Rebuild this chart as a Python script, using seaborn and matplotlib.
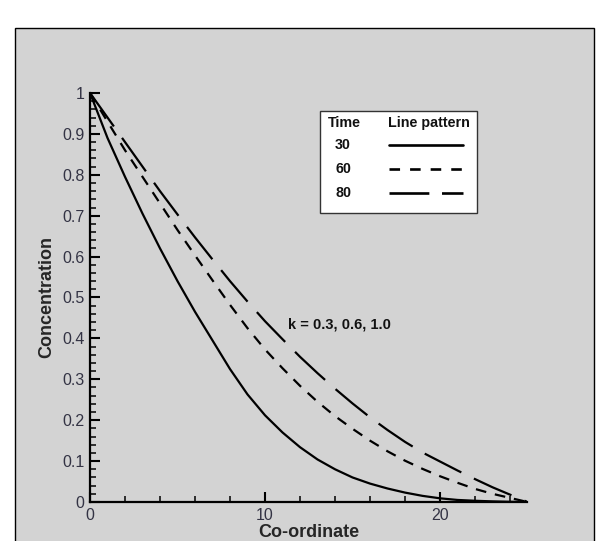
import numpy as np
import pandas as pd
import seaborn as sns
import matplotlib.pyplot as plt
from matplotlib.patches import Rectangle
from matplotlib.lines import Line2D
from matplotlib.ticker import MultipleLocator, FuncFormatter

# data
coord = list(range(26))
conc_30 = [1.0, 0.89, 0.795, 0.705, 0.62, 0.54, 0.465, 0.395, 0.325, 0.263, 0.212,
           0.17, 0.134, 0.104, 0.08, 0.06, 0.045, 0.033, 0.023, 0.015, 0.009,
           0.005, 0.003, 0.0015, 0.0005, 0.0]
conc_60 = [1.0, 0.93, 0.86, 0.795, 0.73, 0.665, 0.603, 0.542, 0.482, 0.425, 0.373,
           0.327, 0.284, 0.245, 0.21, 0.179, 0.15, 0.124, 0.101, 0.081, 0.063,
           0.047, 0.032, 0.02, 0.01, 0.0]
conc_80 = [1.0, 0.94, 0.88, 0.82, 0.76, 0.703, 0.647, 0.593, 0.54, 0.49, 0.442,
           0.398, 0.355, 0.315, 0.277, 0.241, 0.207, 0.176, 0.147, 0.121, 0.099,
           0.077, 0.056, 0.036, 0.018, 0.0]
times = ['30', '60', '80']

df = pd.DataFrame({
    'Co-ordinate': coord * 3,
    'Concentration': conc_30 + conc_60 + conc_80,
    'Time': [t for t in times for _ in coord],
})

sns.set_style('ticks')
plt.rcParams['font.family'] = ['Liberation Sans', 'DejaVu Sans']

fig = plt.figure(figsize=(6.05, 5.41), dpi=100)
fig.patch.set_facecolor('white')
# grey panel behind the plot
fig.patches.append(Rectangle((15 / 605, -0.01), 579 / 605, 0.9582,
                             transform=fig.transFigure, facecolor='#d3d3d3',
                             edgecolor='black', lw=1, zorder=-1))

ax = fig.add_axes([0.1488, 0.0721, 0.7231, 0.756])
ax.set_facecolor('none')

dash_map = {'30': '', '60': (4.8, 4.0), '80': (18.5, 6.3)}
sns.lineplot(data=df, x='Co-ordinate', y='Concentration', style='Time',
             style_order=times, dashes=dash_map, color='black', lw=1.6,
             ax=ax, legend=False)

ax.set_xlim(0, 25)
ax.set_ylim(0, 1)
ax.xaxis.set_major_locator(MultipleLocator(10))
ax.xaxis.set_minor_locator(MultipleLocator(2))
ax.yaxis.set_major_locator(MultipleLocator(0.1))
ax.yaxis.set_minor_locator(MultipleLocator(0.02))
ax.yaxis.set_major_formatter(FuncFormatter(lambda v, p: f'{v:g}'))

for s in ['top', 'right']:
    ax.spines[s].set_visible(False)
for s in ['left', 'bottom']:
    ax.spines[s].set_linewidth(1.6)
    ax.spines[s].set_color('black')

ax.tick_params(which='major', direction='in', length=7, width=1.5,
               color='black', labelsize=11.5, labelcolor='#333344', pad=4)
ax.tick_params(which='minor', direction='in', length=4, width=1.1, color='black')

ax.set_xlabel('Co-ordinate', fontsize=13, fontweight='bold', labelpad=1)
ax.set_ylabel('Concentration', fontsize=13, fontweight='bold', labelpad=5)

ax.text(11.3, 0.433, 'k = 0.3, 0.6, 1.0', fontsize=10.5, fontweight='bold',
        ha='left', va='center', color='#111111')

# table-style legend: Time | Line pattern
legend_dashes = {'30': None, '60': (4.0, 3.8), '80': (15.1, 4.8)}
tr = ax.transAxes
ax.add_patch(Rectangle((0.5257, 0.7066), 0.3582, 0.2494, transform=tr,
                       facecolor='white', edgecolor='#333333', lw=1,
                       zorder=5, clip_on=False))
kw = dict(transform=tr, fontsize=10.3, fontweight='bold', va='center',
          ha='left', zorder=6, color='#111111')
ax.text(0.544, 0.926, 'Time', **kw)
ax.text(0.6811, 0.926, 'Line pattern', **kw)
row_y = [0.872, 0.814, 0.755]
for t, yy in zip(times, row_y):
    ax.text(0.56, yy, t, **kw)
    seg = Line2D([0.6834, 0.8526], [yy, yy], transform=tr,
                 color='black', lw=1.9, zorder=6)
    if legend_dashes[t]:
        seg.set_dashes(legend_dashes[t])
    ax.add_line(seg)

fig.savefig('out.png', dpi=100)
